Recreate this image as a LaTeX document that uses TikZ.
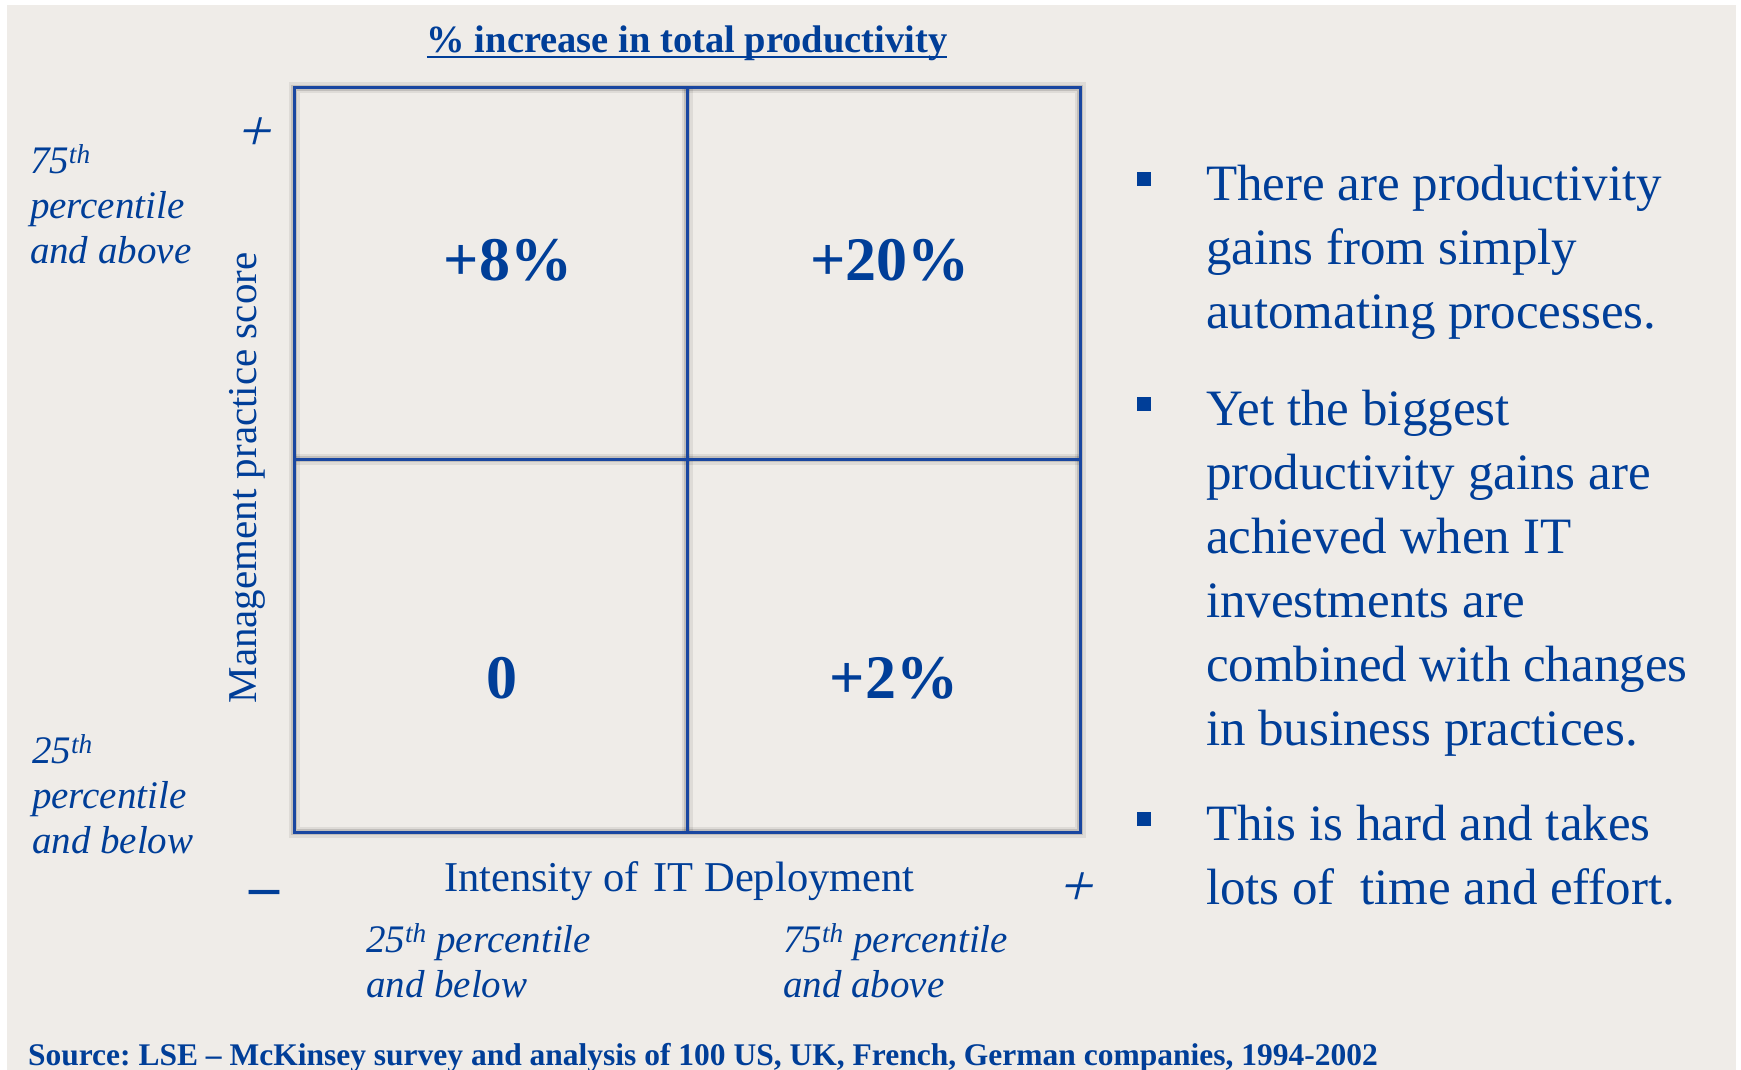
\documentclass[tikz,border=0pt]{standalone}
\usepackage{fontspec}
\setmainfont{Liberation Serif}
\newfontfamily\slantfont[FakeSlant=0.25]{Liberation Serif}
\definecolor{txtblue}{RGB}{0,62,152}
\definecolor{lnblue}{RGB}{25,70,160}
\definecolor{bggrey}{RGB}{239,236,232}
\begin{document}
\frenchspacing
\begin{tikzpicture}[x=1pt,y=-1pt,
  every node/.style={inner sep=0pt, outer sep=0pt, text=txtblue},
  bigbold/.style={font=\fontsize{62}{62}\selectfont\bfseries, anchor=base},
  lbl/.style={font=\fontsize{39}{45}\selectfont\itshape, anchor=base west, align=left},
  bullettext/.style={font=\fontsize{51}{64}\selectfont, anchor=base west, align=left},
  sq/.style={fill=txtblue, minimum size=14pt, inner sep=0pt, draw=none},
  gridline/.style={draw=lnblue, line width=3pt},
  shadowa/.style={draw=black, opacity=0.07, line width=11pt},
  shadowb/.style={draw=black, opacity=0.13, line width=6pt},
  signs/.style={font=\fontsize{58}{58}\selectfont\slantfont}
]
\useasboundingbox (0,0) rectangle (1741,1070);
\fill[white] (0,0) rectangle (1741,1070);
\fill[bggrey] (7,5) rectangle (1736,1070);

% grid coordinates
\coordinate (tl) at (294,88);
\coordinate (tr) at (1080,88);
\coordinate (bl) at (294,832);
\coordinate (br) at (1080,832);
\coordinate (mt) at (687,88);
\coordinate (mb) at (687,832);
\coordinate (ml) at (294,459);
\coordinate (mr) at (1080,459);

% shadow
\begin{scope}[shift={(3,5)}]
  \foreach \s in {shadowa,shadowb}{
    \draw[\s] (tl) rectangle (br);
    \draw[\s] (mt) -- (mb);
    \draw[\s] (ml) -- (mr);
  }
\end{scope}

% grid
\draw[gridline] (tl) rectangle (br);
\draw[gridline] (mt) -- (mb);
\draw[gridline] (ml) -- (mr);

% cell values
\node[bigbold] (c8)  at (508,280) {+8\%};
\node[bigbold] (c20) at (890,280) {+20\%};
\node[bigbold] (c0)  at (502,698) {0};
\node[bigbold] (c2)  at (894,698) {+2\%};

% title
\node[font=\fontsize{38.5}{38.5}\selectfont\bfseries, anchor=base] (title) at (687,53) {\% increase in total productivity};
\draw[txtblue, line width=2pt] ([yshift=-4pt]title.base west) -- ([yshift=-4pt]title.base east);

% y axis (base anchor = last line baseline)
\node[lbl] (hi) at (30,263) {75\textsuperscript{th}\\percentile\\and above};
\node[lbl] (lo) at (32,853) {25\textsuperscript{th}\\percentile\\and below};
\node[signs] (yplus) at (253,134) {+};
\node[font=\fontsize{41}{41}\selectfont, rotate=90, anchor=base] (ylab) at (256,478) {Management practice score};

% x axis
\node[font=\fontsize{60}{60}\selectfont\bfseries] (xminus) at (264,898) {–};
\node[signs] (xplus) at (1075,889) {+};
\node[font=\fontsize{42.5}{42.5}\selectfont, anchor=base west] (xlab) at (444,891) {Intensity of\hspace{0.35em}IT Deployment};
\node[lbl] (xlo) at (366,997) {25\textsuperscript{th} percentile\\and below};
\node[lbl] (xhi) at (783,997) {75\textsuperscript{th} percentile\\and above};

% bullets
\node[sq] (b1) at (1144,179) {};
\node[sq] (b2) at (1144,404) {};
\node[sq] (b3) at (1144,819) {};
\node[bullettext] (t1) at (1206,328) {There are productivity\\gains from simply\\automating processes.};
\node[bullettext] (t2) at (1206,745) {Yet the biggest\\productivity gains are\\achieved when IT\\investments are\\combined with changes\\in business practices.};
\node[bullettext] (t3) at (1206,904) {This is hard and takes\\lots of\hspace{0.5em}time and effort.};

% source
\node[font=\fontsize{31.5}{31.5}\selectfont\bfseries, anchor=base west] (src) at (28,1065) {Source: LSE – McKinsey survey and analysis of 100 US, UK, French, German companies, 1994-2002};
\end{tikzpicture}
\end{document}
